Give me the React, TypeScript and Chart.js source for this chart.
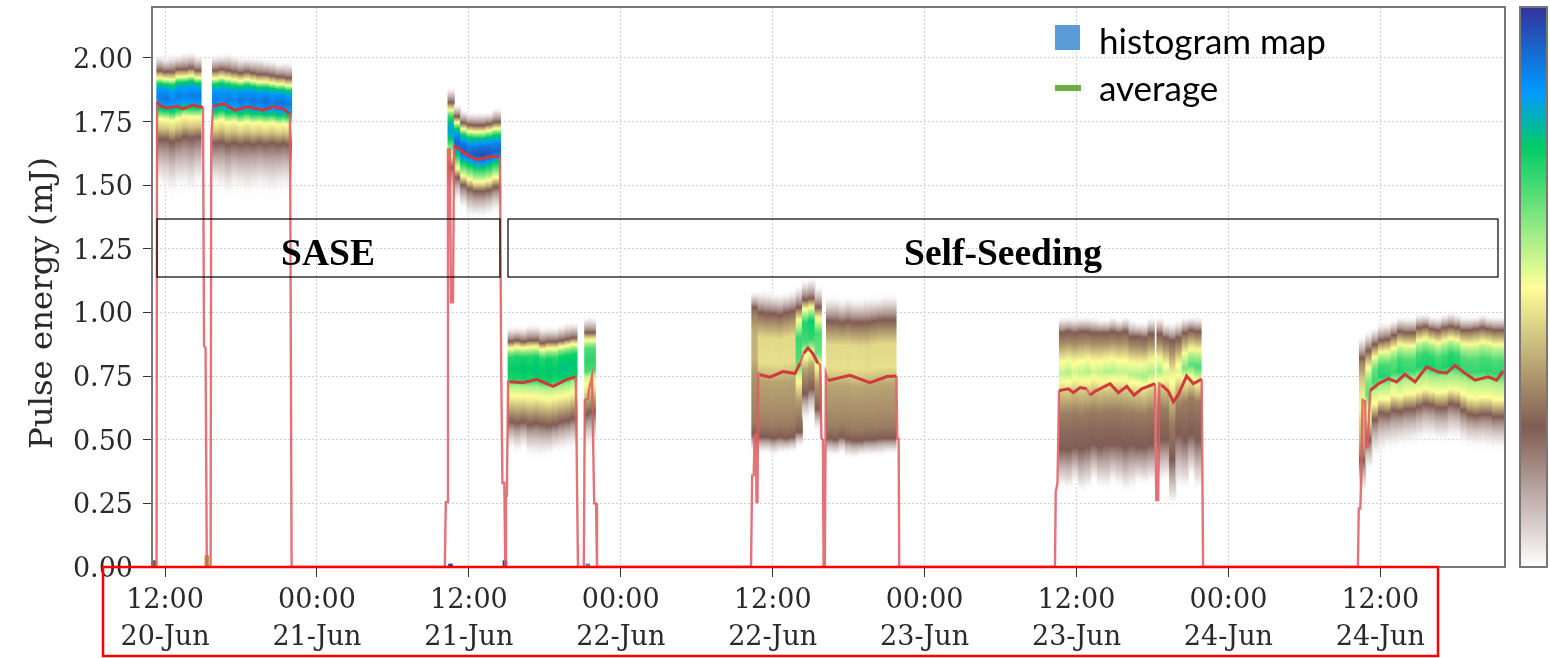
import React, { useEffect, useRef } from "react";
import { Chart, registerables } from "chart.js";

Chart.register(...registerables);

// Time axis: hours after 00:00 on 20-Jun
const timeMin = 10.97;
const timeMax = 117.85;
const timeTicks = [12, 24, 36, 48, 60, 72, 84, 96, 108];
const tickClock = ["12:00", "00:00", "12:00", "00:00", "12:00", "00:00", "12:00", "00:00", "12:00"];
const tickDay = ["20-Jun", "21-Jun", "21-Jun", "22-Jun", "22-Jun", "23-Jun", "23-Jun", "24-Jun", "24-Jun"];
const energyTicks = [0, 0.25, 0.5, 0.75, 1, 1.25, 1.5, 1.75, 2];

// Histogram columns: [time, tail top, band top, band bottom, tail bottom, strength]
const runA = [
  [11.6, 2.03, 1.95, 1.68, 1.42, 1.0], [12.1, 2.02, 1.945, 1.68, 1.4, 1.02], [12.6, 2.03, 1.945, 1.67, 1.38, 0.98],
  [13.1, 2.03, 1.955, 1.68, 1.41, 1.0], [13.6, 2.04, 1.955, 1.69, 1.4, 0.98], [14.1, 2.04, 1.96, 1.685, 1.38, 1.0],
  [14.6, 2.03, 1.95, 1.69, 1.42, 1.0],
];
const runB = [
  [16.0, 2.03, 1.95, 1.665, 1.42, 1.0], [16.5, 2.03, 1.955, 1.67, 1.4, 0.98], [17.0, 2.04, 1.95, 1.66, 1.38, 1.0],
  [17.5, 2.03, 1.945, 1.665, 1.41, 0.98], [18.0, 2.02, 1.94, 1.66, 1.4, 1.02], [18.5, 2.02, 1.945, 1.665, 1.38, 1.0],
  [19.0, 2.02, 1.94, 1.66, 1.4, 1.02], [19.5, 2.02, 1.935, 1.665, 1.41, 1.0], [20.0, 2.01, 1.935, 1.66, 1.4, 1.03],
  [20.5, 2.01, 1.93, 1.665, 1.38, 1.0], [21.0, 2.0, 1.925, 1.66, 1.4, 1.03], [21.5, 2.0, 1.925, 1.665, 1.41, 1.03],
  [21.75, 2.0, 1.92, 1.66, 1.42, 1.0],
];
const runC = [
  [34.6, 1.9, 1.825, 1.57, 1.43, 0.85], [35.1, 1.83, 1.77, 1.53, 1.4, 1.0], [35.6, 1.81, 1.745, 1.5, 1.37, 1.02],
  [36.1, 1.8, 1.737, 1.485, 1.33, 1.0], [36.6, 1.8, 1.735, 1.475, 1.33, 1.03], [37.1, 1.8, 1.735, 1.475, 1.33, 1.05],
  [37.6, 1.8, 1.74, 1.48, 1.34, 1.03], [38.1, 1.81, 1.745, 1.49, 1.36, 1.0], [38.25, 1.82, 1.748, 1.493, 1.36, 1.0],
];
const runD = [
  [39.35, 0.96, 0.885, 0.57, 0.42, 1.0], [39.85, 0.96, 0.89, 0.565, 0.4, 1.0], [40.35, 0.96, 0.885, 0.57, 0.42, 1.03],
  [40.85, 0.97, 0.89, 0.56, 0.39, 1.0], [41.35, 0.97, 0.89, 0.565, 0.38, 1.03], [41.85, 0.96, 0.88, 0.56, 0.38, 1.0],
  [42.35, 0.96, 0.885, 0.555, 0.39, 1.03], [42.85, 0.96, 0.885, 0.56, 0.41, 1.0], [43.35, 0.97, 0.89, 0.57, 0.41, 1.05],
  [43.85, 0.98, 0.895, 0.575, 0.42, 1.05], [44.3, 0.98, 0.9, 0.585, 0.42, 1.03],
];
const runE = [[45.4, 1.0, 0.92, 0.6, 0.42, 0.9], [45.75, 1.0, 0.92, 0.61, 0.42, 0.9]];
const runEdgeF = [[58.6, 1.1, 1.02, 0.52, 0.42, 0.55]];
const runF = [
  [59.1, 1.11, 1.0, 0.51, 0.42, 1.0], [59.6, 1.11, 0.995, 0.51, 0.42, 1.0], [60.1, 1.1, 0.995, 0.505, 0.41, 1.02],
  [60.6, 1.1, 0.99, 0.51, 0.42, 1.0], [61.1, 1.1, 1.0, 0.505, 0.43, 1.0], [61.6, 1.11, 1.005, 0.51, 0.43, 1.0],
];
const runBump = [
  [62.1, 1.13, 1.02, 0.53, 0.45, 0.95], [62.6, 1.15, 1.05, 0.68, 0.53, 1.0], [63.1, 1.16, 1.055, 0.7, 0.55, 1.05],
  [63.6, 1.13, 1.02, 0.62, 0.5, 0.9],
];
const runG = [
  [64.5, 1.09, 0.965, 0.505, 0.41, 1.0], [65.0, 1.09, 0.965, 0.5, 0.41, 1.0], [65.5, 1.08, 0.96, 0.51, 0.42, 1.02],
  [66.0, 1.09, 0.965, 0.5, 0.4, 1.0], [66.5, 1.08, 0.96, 0.495, 0.4, 1.03], [67.0, 1.08, 0.96, 0.495, 0.41, 1.0],
  [67.5, 1.09, 0.96, 0.5, 0.41, 0.98], [68.0, 1.09, 0.965, 0.5, 0.41, 1.0], [68.5, 1.09, 0.97, 0.505, 0.41, 1.0],
  [69.0, 1.1, 0.97, 0.505, 0.42, 1.0], [69.5, 1.1, 0.97, 0.505, 0.42, 1.0],
];
const runH = [
  [82.9, 1.0, 0.92, 0.46, 0.29, 1.0], [83.4, 1.0, 0.925, 0.46, 0.28, 1.05], [83.9, 1.0, 0.92, 0.47, 0.31, 0.95],
  [84.4, 1.0, 0.925, 0.46, 0.27, 1.0], [84.9, 1.0, 0.925, 0.47, 0.28, 1.05], [85.4, 1.0, 0.92, 0.48, 0.32, 0.95],
  [85.9, 0.99, 0.92, 0.47, 0.29, 1.0], [86.4, 0.99, 0.92, 0.48, 0.28, 1.05], [86.9, 1.0, 0.925, 0.48, 0.31, 1.05],
  [87.4, 0.99, 0.92, 0.48, 0.29, 1.0], [87.9, 1.0, 0.925, 0.47, 0.27, 1.0], [88.4, 0.99, 0.905, 0.48, 0.28, 1.05],
  [88.9, 0.98, 0.905, 0.47, 0.31, 1.05], [89.4, 0.98, 0.9, 0.47, 0.3, 1.1], [89.9, 1.0, 0.915, 0.48, 0.31, 1.1],
  [90.6, 1.0, 0.915, 0.5, 0.31, 1.1], [91.1, 0.98, 0.9, 0.5, 0.32, 0.95], [91.6, 0.98, 0.89, 0.42, 0.22, 0.8],
  [92.1, 0.99, 0.9, 0.52, 0.28, 0.9],
];
const runHLate = [
  [92.6, 1.0, 0.92, 0.5, 0.28, 0.9], [93.1, 1.0, 0.93, 0.52, 0.33, 1.0], [93.6, 1.0, 0.925, 0.5, 0.28, 1.05],
];
const runI = [
  [106.6, 0.93, 0.82, 0.42, 0.24, 0.45], [107.1, 0.95, 0.85, 0.5, 0.33, 0.85], [107.6, 0.96, 0.875, 0.58, 0.37, 0.95],
  [108.1, 0.98, 0.89, 0.605, 0.38, 1.03], [108.6, 0.98, 0.895, 0.6, 0.41, 1.0], [109.1, 0.99, 0.91, 0.615, 0.4, 0.95],
  [109.6, 1.0, 0.925, 0.61, 0.42, 1.02], [110.1, 1.0, 0.92, 0.62, 0.42, 0.98], [110.6, 1.0, 0.92, 0.62, 0.43, 0.97],
  [111.1, 1.01, 0.94, 0.63, 0.44, 1.03], [111.6, 1.01, 0.945, 0.64, 0.45, 1.05], [112.1, 1.0, 0.935, 0.635, 0.45, 1.05],
  [112.6, 1.0, 0.93, 0.625, 0.44, 1.0], [113.1, 1.01, 0.94, 0.625, 0.44, 1.03], [113.6, 1.02, 0.945, 0.64, 0.45, 1.07],
  [114.1, 1.01, 0.94, 0.635, 0.45, 1.05], [114.6, 1.0, 0.93, 0.615, 0.43, 0.98], [115.1, 1.0, 0.93, 0.6, 0.42, 0.98],
  [115.6, 1.0, 0.935, 0.595, 0.42, 0.97], [116.1, 1.01, 0.94, 0.6, 0.42, 1.0], [116.6, 1.0, 0.935, 0.6, 0.41, 1.0],
  [117.1, 1.0, 0.93, 0.59, 0.41, 0.98], [117.6, 1.0, 0.93, 0.59, 0.41, 1.0],
];

// Density profile inside a band: [fraction from band top to band bottom, colour-map level]
const shapeBlueWide = [[0, 0.25], [0.05, 0.38], [0.11, 0.5], [0.19, 0.75], [0.28, 0.85], [0.39, 0.89], [0.49, 0.85], [0.57, 0.75], [0.7, 0.5], [0.83, 0.42], [1, 0.25]];
const shapeBlueFalling = [[0, 0.25], [0.1, 0.5], [0.2, 0.75], [0.33, 0.88], [0.45, 0.93], [0.55, 0.85], [0.63, 0.75], [0.85, 0.5], [1, 0.25]];
const shapeGreen = [[0, 0.25], [0.06, 0.45], [0.14, 0.62], [0.2, 0.72], [0.35, 0.75], [0.48, 0.72], [0.55, 0.58], [0.7, 0.48], [0.85, 0.36], [1, 0.25]];
const shapeOlive = [[0, 0.25], [0.08, 0.33], [0.2, 0.44], [0.4, 0.45], [0.55, 0.36], [0.75, 0.33], [0.9, 0.3], [1, 0.25]];
const shapeBump = [[0, 0.25], [0.1, 0.5], [0.25, 0.72], [0.45, 0.68], [0.6, 0.5], [0.75, 0.35], [1, 0.25]];
const shapeOliveYellow = [[0, 0.25], [0.1, 0.33], [0.25, 0.5], [0.35, 0.56], [0.5, 0.42], [0.7, 0.3], [0.85, 0.27], [1, 0.25]];
const shapeOliveGreen = [[0, 0.25], [0.1, 0.38], [0.22, 0.56], [0.33, 0.66], [0.45, 0.5], [0.65, 0.3], [0.85, 0.27], [1, 0.25]];
const shapeRise = [[0, 0.25], [0.1, 0.4], [0.2, 0.55], [0.35, 0.68], [0.5, 0.71], [0.62, 0.58], [0.8, 0.5], [0.92, 0.35], [1, 0.25]];

// Specks of counts on the zero line: [time, height]
const baseSpecks = [[11.1, 0.025], [15.3, 0.045], [38.85, 0.025], [34.55, 0.012], [45.4, 0.012]];
const speckColors = ["#7d5b52", "#b5a24a", "#2f3f9c", "#2f3f9c", "#4a8bc0"];

// Average pulse energy: [time, mJ]
const averageTrace = [
  [10.97, 0], [11.33, 0], [11.37, 1.827], [11.7, 1.81], [12.13, 1.803], [12.95, 1.81], [13.42, 1.8], [14.21, 1.815], [15.0, 1.805],
  [15.08, 0.87], [15.2, 0.86], [15.3, 0], [15.6, 0], [15.65, 1.685], [15.79, 1.81], [16.66, 1.82], [17.53, 1.795], [18.56, 1.808], [19.74, 1.795], [20.53, 1.808], [21.32, 1.8], [21.87, 1.78],
  [22.0, 0], [34.1, 0], [34.18, 0.255], [34.28, 0.255], [34.35, 1.64], [34.5, 1.64], [34.59, 1.04], [34.75, 1.04], [34.83, 1.655], [35.85, 1.62], [36.64, 1.6], [37.67, 1.612], [38.46, 1.612],
  [38.55, 0.806], [38.65, 0.33], [38.8, 0.33], [38.88, 0], [38.93, 0.28], [39.0, 0.28], [39.1, 0.728], [39.25, 0.728], [40.28, 0.724], [41.38, 0.737], [42.65, 0.71], [43.75, 0.737], [44.45, 0.747],
  [44.62, 0], [45.08, 0], [45.16, 0.656], [45.4, 0.66], [45.5, 0.7], [45.73, 0.75], [45.9, 0.25], [46.05, 0.25], [46.12, 0],
  [58.29, 0], [58.38, 0.36], [58.5, 0.36], [58.58, 0.52], [58.68, 0.52], [58.72, 0.255], [58.8, 0.255], [58.86, 0.76], [59.0, 0.755], [59.79, 0.746], [60.82, 0.768], [61.76, 0.76], [62.16, 0.8], [62.45, 0.84], [62.79, 0.86], [63.15, 0.84], [63.58, 0.8], [63.75, 0.795],
  [63.85, 0.507], [63.97, 0.5], [64.02, 0], [64.12, 0], [64.2, 0.76], [64.37, 0.733], [66.11, 0.753], [67.69, 0.724], [69.03, 0.748], [69.78, 0.75], [69.84, 0.505], [69.95, 0.505], [70.0, 0],
  [82.3, 0], [82.36, 0.295], [82.5, 0.33], [82.62, 0.693], [83.36, 0.7], [83.75, 0.685], [84.28, 0.705], [84.81, 0.7], [85.07, 0.675], [85.46, 0.69], [86.65, 0.72], [87.31, 0.685], [87.97, 0.71], [88.55, 0.675], [89.15, 0.7], [90.2, 0.72],
  [90.3, 0.263], [90.45, 0.263], [90.55, 0.72], [90.73, 0.715], [91.26, 0.69], [91.65, 0.648], [92.05, 0.678], [92.7, 0.75], [93.23, 0.72], [93.89, 0.738], [94.0, 0],
  [106.23, 0], [106.3, 0.23], [106.42, 0.23], [106.5, 0.355], [106.6, 0.656], [106.8, 0.65], [106.87, 0.47], [107.0, 0.47], [107.19, 0.693], [107.85, 0.72], [108.64, 0.74], [109.29, 0.727], [109.95, 0.757], [110.74, 0.727], [111.66, 0.786], [112.58, 0.766], [113.24, 0.762], [113.9, 0.792], [114.56, 0.766], [115.48, 0.734], [116.53, 0.747], [117.19, 0.734], [117.72, 0.77], [117.85, 0.76],
];

// terrain_r colour map: [level, r, g, b]
const colorMap = [[0, 255, 255, 255], [0.25, 128, 92, 84], [0.5, 255, 255, 153], [0.75, 0, 204, 102], [0.85, 0, 153, 255], [1, 51, 51, 153]];

const levelColor = (level: number, alpha = 1) => {
  const l = Math.max(0, Math.min(1, level));
  for (let i = 1; i < colorMap.length; i++) {
    const a = colorMap[i - 1];
    const b = colorMap[i];
    if (l <= b[0]) {
      const f = (l - a[0]) / (b[0] - a[0]);
      const c = [1, 2, 3].map((k) => Math.round(a[k] + (b[k] - a[k]) * f));
      return `rgba(${c[0]},${c[1]},${c[2]},${alpha})`;
    }
  }
  return "rgb(51,51,153)";
};

const columnPoints = (rows: number[][], shape: number[][], tailPower = 2.4) =>
  rows.map(([x, tailTop, top, bottom, tailBottom, strength]) => ({ x, y: [tailBottom, tailTop], top, bottom, strength, shape, tailPower }));

const columnGradient = (ctx: any) => {
  const p = ctx.raw;
  if (!p || !p.shape) return "rgba(0,0,0,0)";
  const sc = ctx.chart.scales.y;
  const [tb, tt] = p.y;
  const y0 = sc.getPixelForValue(tt);
  const y1 = sc.getPixelForValue(tb);
  if (!Number.isFinite(y0) || !Number.isFinite(y1)) return "rgba(0,0,0,0)";
  const g = ctx.chart.ctx.createLinearGradient(0, y0, 0, y1);
  const add = (v: number, level: number) => {
    const off = Math.max(0, Math.min(1, (tt - v) / (tt - tb)));
    g.addColorStop(off, levelColor(level, Math.min(1, level / 0.05)));
  };
  for (let i = 0; i <= 5; i++) {
    const s = i / 5;
    add(tt + (p.top - tt) * s, 0.25 * Math.pow(s, 2));
  }
  const lev = (l: number) => (l > 0.3 ? 0.3 + (l - 0.3) * p.strength : l);
  for (let i = 1; i < p.shape.length; i++) {
    const [f0, l0] = p.shape[i - 1];
    const [f1, l1] = p.shape[i];
    for (let k = 1; k <= 4; k++) {
      const s = k / 4;
      add(p.top + (p.bottom - p.top) * (f0 + (f1 - f0) * s), lev(l0 + (l1 - l0) * s));
    }
  }
  for (let i = 1; i <= 6; i++) {
    const s = i / 6;
    add(p.bottom + (tb - p.bottom) * s, 0.25 * Math.pow(1 - s, p.tailPower));
  }
  return g;
};

const overlay = {
  id: "overlay",
  afterDraw(chart: any) {
    const { ctx, chartArea: a } = chart;
    ctx.save();
    // plot frame
    ctx.strokeStyle = "#777777";
    ctx.lineWidth = 2;
    ctx.strokeRect(a.left, a.top, a.right - a.left, a.bottom - a.top);

    // colour bar
    const bar = ctx.createLinearGradient(0, a.bottom, 0, a.top);
    for (let i = 0; i <= 40; i++) bar.addColorStop(i / 40, levelColor(i / 40));
    ctx.fillStyle = bar;
    ctx.fillRect(1520, a.top, 27, a.bottom - a.top);
    ctx.strokeRect(1520, a.top, 27, a.bottom - a.top);

    // y title
    ctx.save();
    ctx.translate(44, 303);
    ctx.rotate(-Math.PI / 2);
    ctx.fillStyle = "#2a2a2a";
    ctx.font = '32.4px "DejaVu Serif"';
    ctx.textAlign = "center";
    ctx.textBaseline = "middle";
    ctx.fillText("Pulse energy (mJ)", 0, 0);
    ctx.restore();

    // mode boxes
    ctx.strokeStyle = "#000000";
    ctx.lineWidth = 1.2;
    ctx.strokeRect(157, 219, 343, 58);
    ctx.strokeRect(508, 219, 990, 58);
    ctx.fillStyle = "#000000";
    ctx.font = 'bold 37.5px "Liberation Serif"';
    ctx.textAlign = "center";
    ctx.textBaseline = "middle";
    ctx.fillText("SASE", 328, 255);
    ctx.fillText("Self-Seeding", 1003, 255);

    // legend
    ctx.fillStyle = "#5b9bd5";
    ctx.fillRect(1055, 25, 25, 25);
    ctx.fillStyle = "#70ad47";
    ctx.fillRect(1055, 85, 26, 6);
    ctx.fillStyle = "#000000";
    ctx.font = '35px "Lato"';
    ctx.textAlign = "left";
    ctx.fillText("histogram map", 1099, 43);
    ctx.fillText("average", 1099, 90);

    // red frame round the time labels
    ctx.strokeStyle = "#ff0000";
    ctx.lineWidth = 2.5;
    ctx.strokeRect(103, 567, 1335, 89);
    ctx.restore();
  },
};

export default function App() {
  const ref = useRef<HTMLCanvasElement>(null);
  useEffect(() => {
    document.body.style.margin = "0";
    const heatPoints = [
      ...columnPoints(runA, shapeBlueWide),
      ...columnPoints(runB, shapeBlueWide),
      ...columnPoints(runC, shapeBlueFalling),
      ...columnPoints(runD, shapeGreen),
      ...columnPoints(runE, shapeGreen),
      ...columnPoints(runEdgeF, shapeOlive),
      ...columnPoints(runF, shapeOlive),
      ...columnPoints(runBump, shapeBump),
      ...columnPoints(runG, shapeOlive),
      ...columnPoints(runH, shapeOliveYellow, 1.5),
      ...columnPoints(runHLate, shapeOliveGreen, 1.5),
      ...columnPoints(runI, shapeRise),
    ];
    const chart = new Chart(ref.current!, {
      type: "bar",
      data: {
        datasets: [
          {
            type: "line",
            label: "average",
            data: averageTrace.map(([x, y]) => ({ x, y })),
            order: 0,
            borderColor: "#cf3a3a",
            borderWidth: 3,
            pointRadius: 0,
            tension: 0,
            segment: {
              borderColor: (c: any) => (Math.abs(c.p1.x - c.p0.x) < 4 || c.p0.parsed.y === 0 ? "rgba(222,90,96,0.85)" : "#cf3a3a"),
              borderWidth: (c: any) => (Math.abs(c.p1.x - c.p0.x) < 4 || c.p0.parsed.y === 0 ? 2.4 : 3),
            },
          },
          {
            type: "bar",
            label: "histogram map",
            data: heatPoints,
            order: 1,
            grouped: false,
            barThickness: 6.6,
            backgroundColor: columnGradient,
            borderWidth: 0,
          },
          {
            type: "bar",
            label: "counts at zero",
            data: baseSpecks.map(([x, y]) => ({ x, y })),
            order: 2,
            grouped: false,
            barThickness: 4,
            backgroundColor: speckColors,
            borderWidth: 0,
          },
        ],
      } as any,
      options: {
        responsive: false,
        animation: false,
        layout: { autoPadding: false, padding: { top: 7, right: 45, left: 0, bottom: 0 } },
        plugins: { legend: { display: false }, tooltip: { enabled: false }, title: { display: false } },
        scales: {
          x: {
            type: "linear",
            offset: false,
            min: timeMin,
            max: timeMax,
            stacked: false,
            grid: { offset: false, color: "#d0d0d0", lineWidth: 1, tickLength: 10, tickColor: "#333333" },
            border: { display: false, dash: [2, 2] },
            afterBuildTicks: (s: any) => {
              s.ticks = timeTicks.map((value) => ({ value }));
            },
            afterFit: (s: any) => {
              s.height = 91;
              s.paddingLeft = 0;
              s.paddingRight = 0;
            },
            ticks: {
              autoSkip: false,
              maxRotation: 0,
              color: "#2a2a2a",
              padding: 5,
              font: { family: '"DejaVu Serif"', size: 27, lineHeight: 1.38 },
              callback: (v: any) => {
                const i = timeTicks.indexOf(Number(v));
                return i < 0 ? "" : [tickClock[i], tickDay[i]];
              },
            },
          },
          y: {
            type: "linear",
            min: 0,
            max: 2.2,
            grid: { color: "#d0d0d0", lineWidth: 1, tickLength: 9, tickColor: "#333333" },
            border: { display: false, dash: [2, 2] },
            afterBuildTicks: (s: any) => {
              s.ticks = energyTicks.map((value) => ({ value }));
            },
            afterFit: (s: any) => {
              s.width = 152;
              s.paddingTop = 0;
              s.paddingBottom = 0;
            },
            ticks: {
              color: "#2a2a2a",
              padding: 10,
              labelOffset: 3,
              font: { family: '"DejaVu Serif"', size: 27 },
              callback: (v: any) => Number(v).toFixed(2),
            },
          },
        },
      },
      plugins: [overlay],
    } as any);
    return () => chart.destroy();
  }, []);
  return <canvas ref={ref} width={1550} height={658} style={{ display: "block", filter: "blur(0.5px)" }} />;
}
